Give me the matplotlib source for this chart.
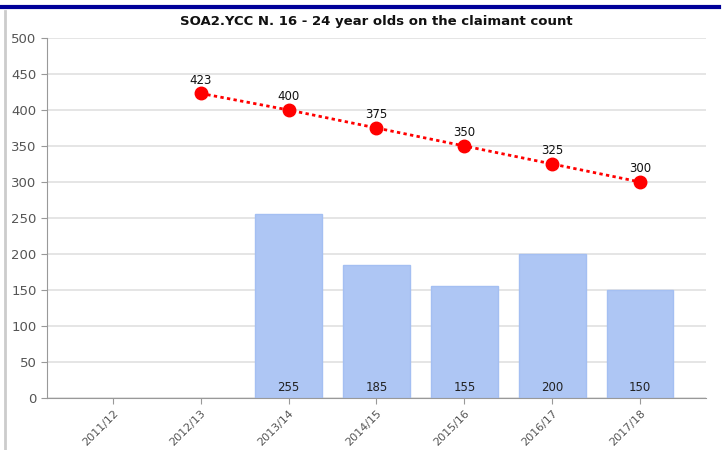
import matplotlib.pyplot as plt
import numpy as np
from matplotlib.lines import Line2D

# data
years = ['2011/12', '2012/13', '2013/14', '2014/15', '2015/16', '2016/17', '2017/18']
actual = [None, None, 255, 185, 155, 200, 150]
target = [None, 423, 400, 375, 350, 325, 300]

x = np.arange(len(years))

fig = plt.figure(figsize=(7.26, 4.5), dpi=100)
ax = fig.add_axes([0.0647, 0.1156, 0.9077, 0.80])

# frame decoration (header bar and left border)
fig.add_artist(Line2D([0, 719/726], [1-7/450, 1-7/450], color='#000099', lw=3, transform=fig.transFigure))
fig.add_artist(Line2D([5/726, 5/726], [0, 1-11/450], color='#cccccc', lw=2, transform=fig.transFigure))

#bars
bx = [i for i, v in zip(x, actual) if v is not None]
bv = [v for v in actual if v is not None]
ax.bar(bx, bv, width=0.76, color='#aec6f4', edgecolor='#a4bff2', linewidth=1, zorder=2)
for i, v in zip(bx, bv):
	ax.text(i, 15, str(v), ha='center', va='center', fontsize=8.5, color='#222222', zorder=3)

#target line
tx = [i for i, v in zip(x, target) if v is not None]
tv = [v for v in target if v is not None]
ax.plot(tx, tv, color='#ff0000', linestyle=(0, (1.2, 1.2)), lw=2, marker='o', markersize=9, zorder=4)
for i, v in zip(tx, tv):
	ax.text(i, v + 9, str(v), ha='center', va='bottom', fontsize=8.5, color='#111111', zorder=5)

ax.set_xlim(-0.75, 6.75)
ax.set_ylim(0, 500)
ax.set_yticks(np.arange(0, 501, 50))
ax.set_xticks(x)
ax.set_xticklabels(years, rotation=45, ha='right', rotation_mode='anchor', fontsize=8, color='#555555')
ax.tick_params(axis='y', labelsize=9.5, labelcolor='#555555', color='#999999', length=4)
ax.tick_params(axis='x', color='#999999', length=4)
ax.grid(axis='y', color='#e0e0e0', lw=1.2, zorder=0)
ax.set_axisbelow(True)
for s in ['top', 'right']:
	ax.spines[s].set_visible(False)
for s in ['left', 'bottom']:
	ax.spines[s].set_color('#999999')

ax.set_title('SOA2.YCC N. 16 - 24 year olds on the claimant count', fontsize=9.5, fontweight='bold', color='#111111', pad=9)

plt.savefig('out.png', dpi=100)
